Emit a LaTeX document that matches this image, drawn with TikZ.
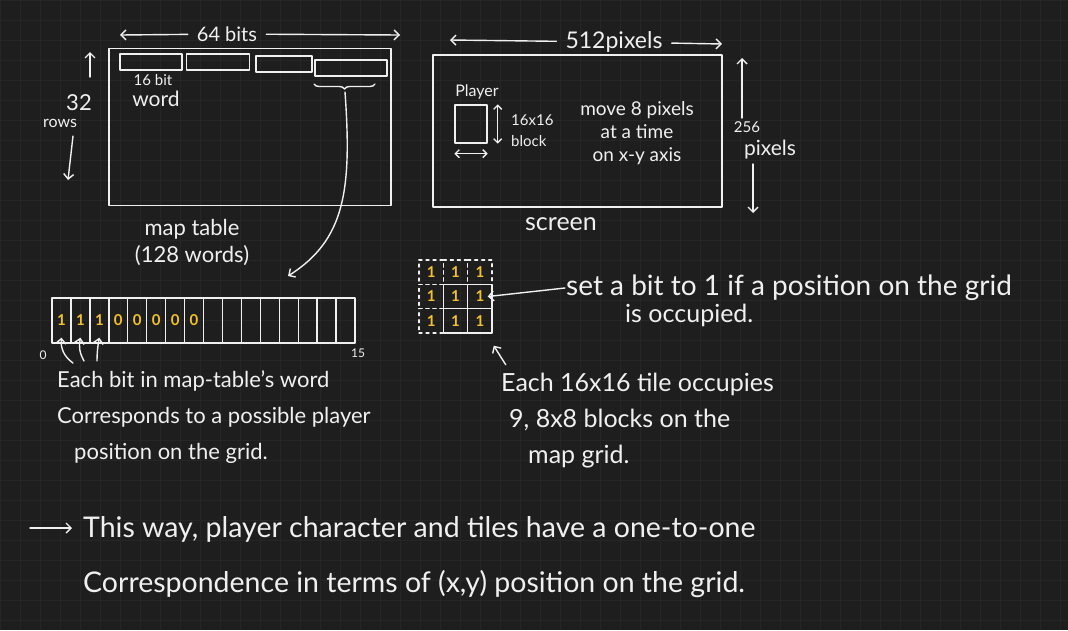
\documentclass[tikz,border=0pt]{standalone}
\usepackage{fontspec}
\setmainfont{Lato}
\usetikzlibrary{arrows.meta,positioning,decorations.pathreplacing}
\definecolor{board}{HTML}{1E1E1E}
\definecolor{boardgrid}{HTML}{262626}
\definecolor{chalk}{HTML}{F0F0F0}
\definecolor{bitgold}{HTML}{F2C12E}
\newcommand\fsz[2]{\fontsize{#1}{#2}\selectfont}
\tikzset{
  ink/.style={draw=chalk, line width=1.4pt, line cap=round, line join=round, inner sep=0pt},
  lbl/.style={text=chalk, inner sep=1pt},
  bit/.style={text=bitgold, font=\fsz{15}{15}\bfseries},
  tip/.style={-{Straight Barb[length=5pt,width=10pt]}},
  dtip/.style={{Straight Barb[length=4pt,width=8pt]}-{Straight Barb[length=4pt,width=8pt]}},
}
\begin{document}
\begin{tikzpicture}[x=1pt,y=-1pt]
  \useasboundingbox (0,0) rectangle (1068,630);
  \fill[board] (0,0) rectangle (1068,630);
  \draw[boardgrid, line width=0.6pt, step=20pt] (0,0) grid (1068,630);

  \node[ink, minimum width=282pt, minimum height=157pt] (maptable) at (250,127) {};
  \foreach \n/\x/\y/\w in {1/151/62/62, 2/218/62/63, 3/284/64/56, 4/351/68/72}
    \node[ink, minimum width=\w pt, minimum height=16pt] (word\n) at (\x,\y) {};
  \node[lbl, font=\fsz{15}{17}] (wordsize) at (153,80) {16 bit};
  \node[lbl, font=\fsz{21}{23}] (wordname) at (156,99) {word};
  \draw[ink, decorate, decoration={brace, mirror, amplitude=5pt}] (314,84) -- (375,84);
  \coordinate (bracetip) at (345,92);
  \coordinate (rowhint) at (288,276);
  \draw[ink, tip] (bracetip) .. controls (352,190) and (345,240) .. (rowhint);
  \node[lbl, inner xsep=9pt, font=\fsz{20}{22}] (bitslbl) at (227,34) {64 bits};
  \coordinate (bitsL) at (120,35);
  \coordinate (bitsR) at (400,35);
  \draw[ink, tip] (bitslbl) -- (bitsL);
  \draw[ink, tip] (bitslbl) -- (bitsR);
  \node[lbl, font=\fsz{22}{24}] (rowsnum) at (79,103) {32};
  \node[lbl, font=\fsz{16}{18}] (rowsname) at (60,123) {rows};
  \coordinate (rowsup) at (90,52);
  \coordinate (rowsdown) at (68,180);
  \draw[ink, tip] (90,77) -- (rowsup);
  \draw[ink, tip] (73,136) -- (rowsdown);
  \node[lbl, align=center, font=\fsz{22}{27}] (mapcap) at (192,243) {map table\\(128 words)};

  \node[ink, minimum width=289pt, minimum height=152pt] (screen) at (577.5,131) {};
  \node[lbl, inner xsep=9pt, font=\fsz{23}{25}] (widthlbl) at (614,42) {512pixels};
  \coordinate (widthL) at (450,40);
  \coordinate (widthR) at (722,44);
  \draw[ink, tip] (widthlbl) -- (widthL);
  \draw[ink, tip] (widthlbl) -- (widthR);
  \node[lbl, font=\fsz{16}{18}] (playerlbl) at (477,92) {Player};
  \node[ink, minimum width=32pt, minimum height=38pt] (player) at (471,124) {};
  \draw[ink, dtip] ([xshift=10pt]player.north east) -- ([xshift=10pt]player.south east);
  \draw[ink, dtip] ([yshift=-10pt]player.south west) -- ([yshift=-10pt]player.south east);
  \node[lbl, anchor=west, align=left, font=\fsz{15}{21}] (blocklbl) at (510,131) {16x16\\block};
  \node[lbl, align=center, font=\fsz{19}{23}] (movelbl) at (637,133) {move 8 pixels\\at a time\\on x-y axis};
  \node[lbl, font=\fsz{15}{17}] (heightnum) at (747,127) {256};
  \node[lbl, font=\fsz{21}{23}] (heightname) at (770,150) {pixels};
  \coordinate (heightup) at (742,58);
  \coordinate (heightdown) at (753,213);
  \draw[ink, tip] (742,118) -- (heightup);
  \draw[ink, tip] (753,164) -- (heightdown);
  \node[lbl, font=\fsz{25}{27}] (screenlbl) at (561,224) {screen};

  \foreach \i in {0,...,15}
    \node[ink, minimum width=18.94pt, minimum height=45pt] (cell\i) at ({61.47+18.94*\i},320.5) {};
  \foreach \b [count=\i from 0] in {1,1,1,0,0,0,0,0}
    \node[bit] (bit\i) at (cell\i) {\b};
  \node[lbl, font=\fsz{12}{14}] (lsb) at (43,355) {0};
  \node[lbl, font=\fsz{12}{14}] (msb) at (358,353) {15};
  \foreach \i/\x/\y/\b in {0/73/363/30, 1/84/361/20, 2/97/361/5}
    \draw[ink, tip] (\x,\y) to[bend left=\b] ([yshift=6pt]cell\i.south);
  \node[lbl, anchor=west, align=left, font=\fsz{22}{36}] (bitnote) at (56,417)
    {Each bit in map-table's word\\Corresponds to a possible player\\\hspace*{17pt}position on the grid.};

  \foreach \r/\c in {0/0,0/1,0/2,1/0,2/0}
    \node[ink, dashed, dash pattern=on 3pt off 4pt, minimum size=24.33pt, bit] (occ\r\c) at ({431.2+24.33*\c},{272.2+24.33*\r}) {1};
  \foreach \r/\c in {1/1,1/2,2/1,2/2}
    \node[ink, minimum size=24.33pt, bit] (occ\r\c) at ({431.2+24.33*\c},{272.2+24.33*\r}) {1};
  \node[lbl, anchor=west, font=\fsz{28}{30}] (setnote) at (565,288) {set a bit to 1 if a position on the grid};
  \node[lbl, anchor=west, font=\fsz{25}{27}] (setnote2) at (624,315) {is occupied.};
  \draw[ink, tip] (setnote.west) -- ([xshift=-5pt]occ12.east);
  \draw[ink, tip] ([shift={(13pt,-31pt)}]occ22.south east) -- ([shift={(1pt,-12pt)}]occ22.south east);
  \node[lbl, anchor=west, align=left, font=\fsz{25}{36}] (tilenote) at (500,421)
    {Each 16x16 tile occupies\\\hspace*{8pt}9, 8x8 blocks on the\\\hspace*{27pt}map grid.};

  \coordinate (conclTail) at (30,528);
  \coordinate (conclHead) at (72,528);
  \draw[ink, tip] (conclTail) -- (conclHead);
  \node[lbl, anchor=west, align=left, font=\fsz{28.5}{55}] (concl) at (82,557)
    {This way, player character and tiles have a one-to-one\\Correspondence in terms of (x,y) position on the grid.};
\end{tikzpicture}
\end{document}
